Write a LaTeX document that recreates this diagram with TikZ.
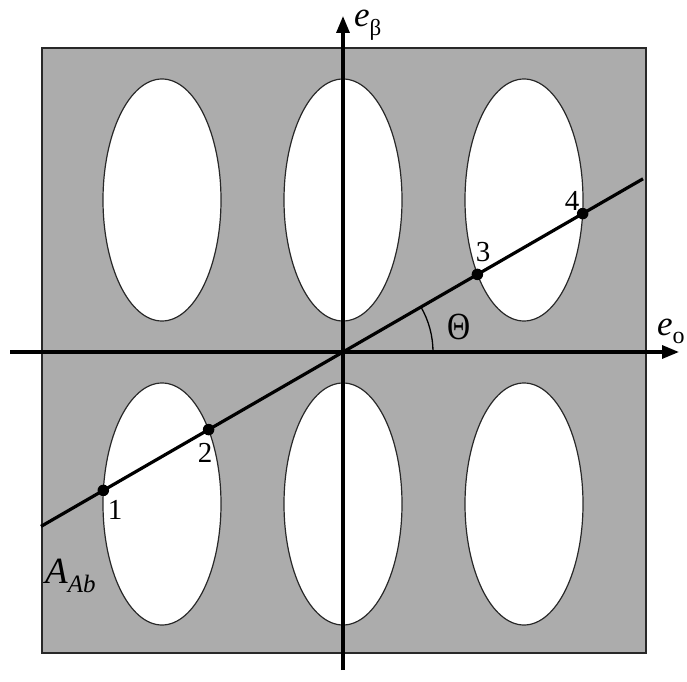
\documentclass[tikz,border=0pt]{standalone}
\usepackage{fontspec}
\setmainfont{Liberation Serif}
\usetikzlibrary{arrows.meta}
\definecolor{panel}{RGB}{172,172,172}
\definecolor{edge}{RGB}{40,40,40}
\newcommand{\fs}[1]{\fontsize{#1}{#1}\selectfont}
\tikzset{
  hole/.style={draw=edge, line width=1.2pt, fill=white},
  axis/.style={line width=3.2pt, -{Triangle[length=17pt,width=13pt]}},
  ray/.style={line width=3.2pt},
  dot/.style={circle, fill=black, inner sep=0pt, minimum size=11.5pt},
  lbl/.style={inner sep=0pt, font=\fs{29}},
}
\begin{document}
\begin{tikzpicture}[x=1pt,y=1pt]
\useasboundingbox (0,0) rectangle (687,681);
% panel
\draw[edge, line width=1.5pt, fill=panel] (42,28) rectangle (646,633);
% holes
\foreach \cx/\cy/\nm in {162/481/h1,343/481/h2,524/481/h3,162/177/h4,343/177/h5,524/177/h6}
  \draw[hole] (\cx,\cy) ellipse [x radius=59, y radius=121];
% axes
\coordinate (O) at (343,329);
\coordinate (xs) at (10,329);
\coordinate (xe) at (679,329);
\coordinate (ys) at (343,11);
\coordinate (ye) at (343,665);
\draw[axis] (xs) -- (xe);
\draw[axis] (ys) -- (ye);
% ray through origin at 30 degrees
\coordinate (L) at (41,154.6);
\coordinate (R) at (643,502.2);
\draw[ray] (L) -- (R);
% angle arc
\draw[line width=1.3pt] (433,329) arc[start angle=0, end angle=30, radius=90];
% points
\node[dot] (p1) at (103.3,190.6) {};
\node[dot] (p2) at (208.6,251.4) {};
\node[dot] (p3) at (477.4,406.6) {};
\node[dot] (p4) at (582.7,467.4) {};
% labels
\node[lbl] (n1) at (115,171) {1};
\node[lbl] (n2) at (205,228) {2};
\node[lbl] (n3) at (483,429) {3};
\node[lbl] (n4) at (572,480) {4};
\node[inner sep=0pt, anchor=center] (th) at (459,354) {\fs{32}\scalebox{1}[1.2]{Θ}};
\node[inner sep=0pt, anchor=base west] (eb) at (354,654) {\fs{35}\textit{e}\raisebox{-9pt}{\fs{23}β}};
\node[inner sep=0pt, anchor=base west] (eo) at (657,346) {\fs{35}\textit{e}\raisebox{-8pt}{\fs{24}o}};
\node[inner sep=0pt, anchor=base west] (A) at (45,98) {\fs{37}\textit{A}\raisebox{-9pt}{\fs{25}\textit{Ab}}};
\end{tikzpicture}
\end{document}
